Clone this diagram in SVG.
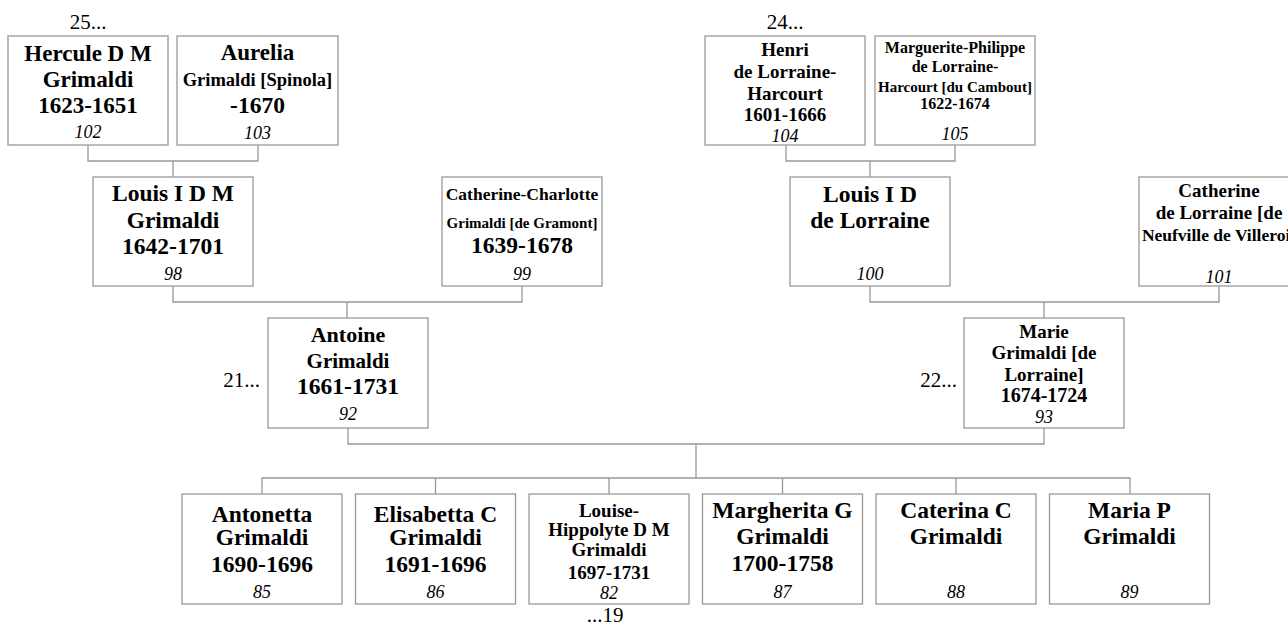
<svg xmlns="http://www.w3.org/2000/svg" width="1288" height="626" viewBox="0 0 1288 626">
<style>
.box{fill:#fff;stroke:#999;stroke-width:1.3}
.t{font-family:"Liberation Serif","Times New Roman",serif;font-weight:bold;text-anchor:middle;fill:#000}
.n{font-family:"Liberation Serif","Times New Roman",serif;font-style:italic;text-anchor:middle;fill:#000;font-size:18px}
.l{font-family:"Liberation Serif","Times New Roman",serif;fill:#000;font-size:21px}
.c{fill:none;stroke:#999;stroke-width:1.3}
</style>
<rect width="1288" height="626" fill="#fff"/>
<g id="connectors">
<path class="c" d="M88,145 V161 H258 V145 M173,161 V177"/>
<path class="c" d="M786,145 V161 H955 V145 M870,161 V177"/>
<path class="c" d="M173,286 V302 H522 V286 M347,302 V318"/>
<path class="c" d="M870,286 V302 H1219 V286 M1044,302 V318"/>
<path class="c" d="M348,428 V444 H1044 V428 M696,444 V478"/>
<path class="c" d="M262,494 V478 H1130 V494 M435.5,478 V494 M609,478 V494 M782.5,478 V494 M956,478 V494"/>
</g>
<g id="n102">
<rect class="box" x="8" y="36" width="160" height="109"/>
<text class="t" x="88" y="60.7" font-size="23">Hercule D M</text>
<text class="t" x="88" y="87" font-size="23">Grimaldi</text>
<text class="t" x="88" y="112.7" font-size="23">1623-1651</text>
<text class="n" x="88" y="138">102</text>
</g>
<g id="n103">
<rect class="box" x="177" y="36" width="161" height="109"/>
<text class="t" x="257.5" y="60" font-size="23">Aurelia</text>
<text class="t" x="257.5" y="86" font-size="18.5">Grimaldi [Spinola]</text>
<text class="t" x="257.5" y="113" font-size="23.5">-1670</text>
<text class="n" x="257.5" y="139">103</text>
</g>
<g id="n104">
<rect class="box" x="705" y="36" width="160" height="109"/>
<text class="t" x="785" y="56" font-size="19">Henri</text>
<text class="t" x="785" y="78" font-size="19">de Lorraine-</text>
<text class="t" x="785" y="100" font-size="19">Harcourt</text>
<text class="t" x="785" y="121" font-size="19">1601-1666</text>
<text class="n" x="785" y="142">104</text>
</g>
<g id="n105">
<rect class="box" x="875" y="36" width="160" height="109"/>
<text class="t" x="955" y="53" font-size="16">Marguerite-Philippe</text>
<text class="t" x="955" y="72" font-size="16">de Lorraine-</text>
<text class="t" x="955" y="92" font-size="15">Harcourt [du Cambout]</text>
<text class="t" x="955" y="109" font-size="16">1622-1674</text>
<text class="n" x="955" y="140" font-size="20">105</text>
</g>
<g id="n98">
<rect class="box" x="93" y="177" width="160" height="109"/>
<text class="t" x="173" y="200.7" font-size="23.5">Louis I D M</text>
<text class="t" x="173" y="228" font-size="23.5">Grimaldi</text>
<text class="t" x="173" y="254" font-size="23.5">1642-1701</text>
<text class="n" x="173" y="280">98</text>
</g>
<g id="n99">
<rect class="box" x="442" y="177" width="160" height="109"/>
<text class="t" x="522" y="200" font-size="17.5">Catherine-Charlotte</text>
<text class="t" x="522" y="228" font-size="15">Grimaldi [de Gramont]</text>
<text class="t" x="522" y="253" font-size="23.5">1639-1678</text>
<text class="n" x="522" y="280">99</text>
</g>
<g id="n100">
<rect class="box" x="790" y="177" width="160" height="109"/>
<text class="t" x="870" y="201.7" font-size="23.5">Louis I D</text>
<text class="t" x="870" y="228" font-size="23.5">de Lorraine</text>
<text class="n" x="870" y="280" font-size="19">100</text>
</g>
<g id="n101">
<rect class="box" x="1139" y="177" width="160" height="109"/>
<text class="t" x="1219" y="197" font-size="19">Catherine</text>
<text class="t" x="1219" y="219" font-size="19">de Lorraine [de</text>
<text class="t" x="1219" y="241" font-size="17.5">Neufville de Villeroi]</text>
<text class="n" x="1219" y="283" font-size="20">101</text>
</g>
<g id="n92">
<rect class="box" x="268" y="318" width="160" height="110"/>
<text class="t" x="348" y="341.7" font-size="22">Antoine</text>
<text class="t" x="348" y="368" font-size="21">Grimaldi</text>
<text class="t" x="348" y="394" font-size="23.5">1661-1731</text>
<text class="n" x="348" y="420">92</text>
</g>
<g id="n93">
<rect class="box" x="964" y="318" width="160" height="110"/>
<text class="t" x="1044" y="338" font-size="19">Marie</text>
<text class="t" x="1044" y="359" font-size="19">Grimaldi [de</text>
<text class="t" x="1044" y="381" font-size="19">Lorraine]</text>
<text class="t" x="1044" y="402" font-size="20">1674-1724</text>
<text class="n" x="1044" y="423" font-size="19">93</text>
</g>
<g id="n85">
<rect class="box" x="182" y="494" width="160" height="110"/>
<text class="t" x="262" y="521.7" font-size="23.5">Antonetta</text>
<text class="t" x="262" y="545" font-size="23.5">Grimaldi</text>
<text class="t" x="262" y="571.7" font-size="23.5">1690-1696</text>
<text class="n" x="262" y="598">85</text>
</g>
<g id="n86">
<rect class="box" x="355.5" y="494" width="160" height="110"/>
<text class="t" x="435.5" y="521.7" font-size="23.5">Elisabetta C</text>
<text class="t" x="435.5" y="545" font-size="23.5">Grimaldi</text>
<text class="t" x="435.5" y="571.7" font-size="23.5">1691-1696</text>
<text class="n" x="435.5" y="598">86</text>
</g>
<g id="n82">
<rect class="box" x="529" y="494" width="160" height="110"/>
<text class="t" x="609" y="516.7" font-size="19">Louise-</text>
<text class="t" x="609" y="535.5" font-size="19">Hippolyte D M</text>
<text class="t" x="609" y="555.5" font-size="19">Grimaldi</text>
<text class="t" x="609" y="579" font-size="19">1697-1731</text>
<text class="n" x="609" y="599">82</text>
</g>
<g id="n87">
<rect class="box" x="702.5" y="494" width="160" height="110"/>
<text class="t" x="782.5" y="518" font-size="23.5">Margherita G</text>
<text class="t" x="782.5" y="544" font-size="23.5">Grimaldi</text>
<text class="t" x="782.5" y="570.7" font-size="23.5">1700-1758</text>
<text class="n" x="782.5" y="597.7">87</text>
</g>
<g id="n88">
<rect class="box" x="876" y="494" width="160" height="110"/>
<text class="t" x="956" y="518" font-size="23.5">Caterina C</text>
<text class="t" x="956" y="544" font-size="23.5">Grimaldi</text>
<text class="n" x="956" y="597.7">88</text>
</g>
<g id="n89">
<rect class="box" x="1049.5" y="494" width="160" height="110"/>
<text class="t" x="1129.5" y="518" font-size="23.5">Maria P</text>
<text class="t" x="1129.5" y="544" font-size="23.5">Grimaldi</text>
<text class="n" x="1129.5" y="597.7">89</text>
</g>
<g id="labels">
<text class="l" x="88" y="29" text-anchor="middle">25...</text>
<text class="l" x="785" y="29" text-anchor="middle">24...</text>
<text class="l" x="260" y="387" text-anchor="end">21...</text>
<text class="l" x="957" y="387" text-anchor="end">22...</text>
<text class="l" x="605" y="622" text-anchor="middle">...19</text>
</g>
</svg>
